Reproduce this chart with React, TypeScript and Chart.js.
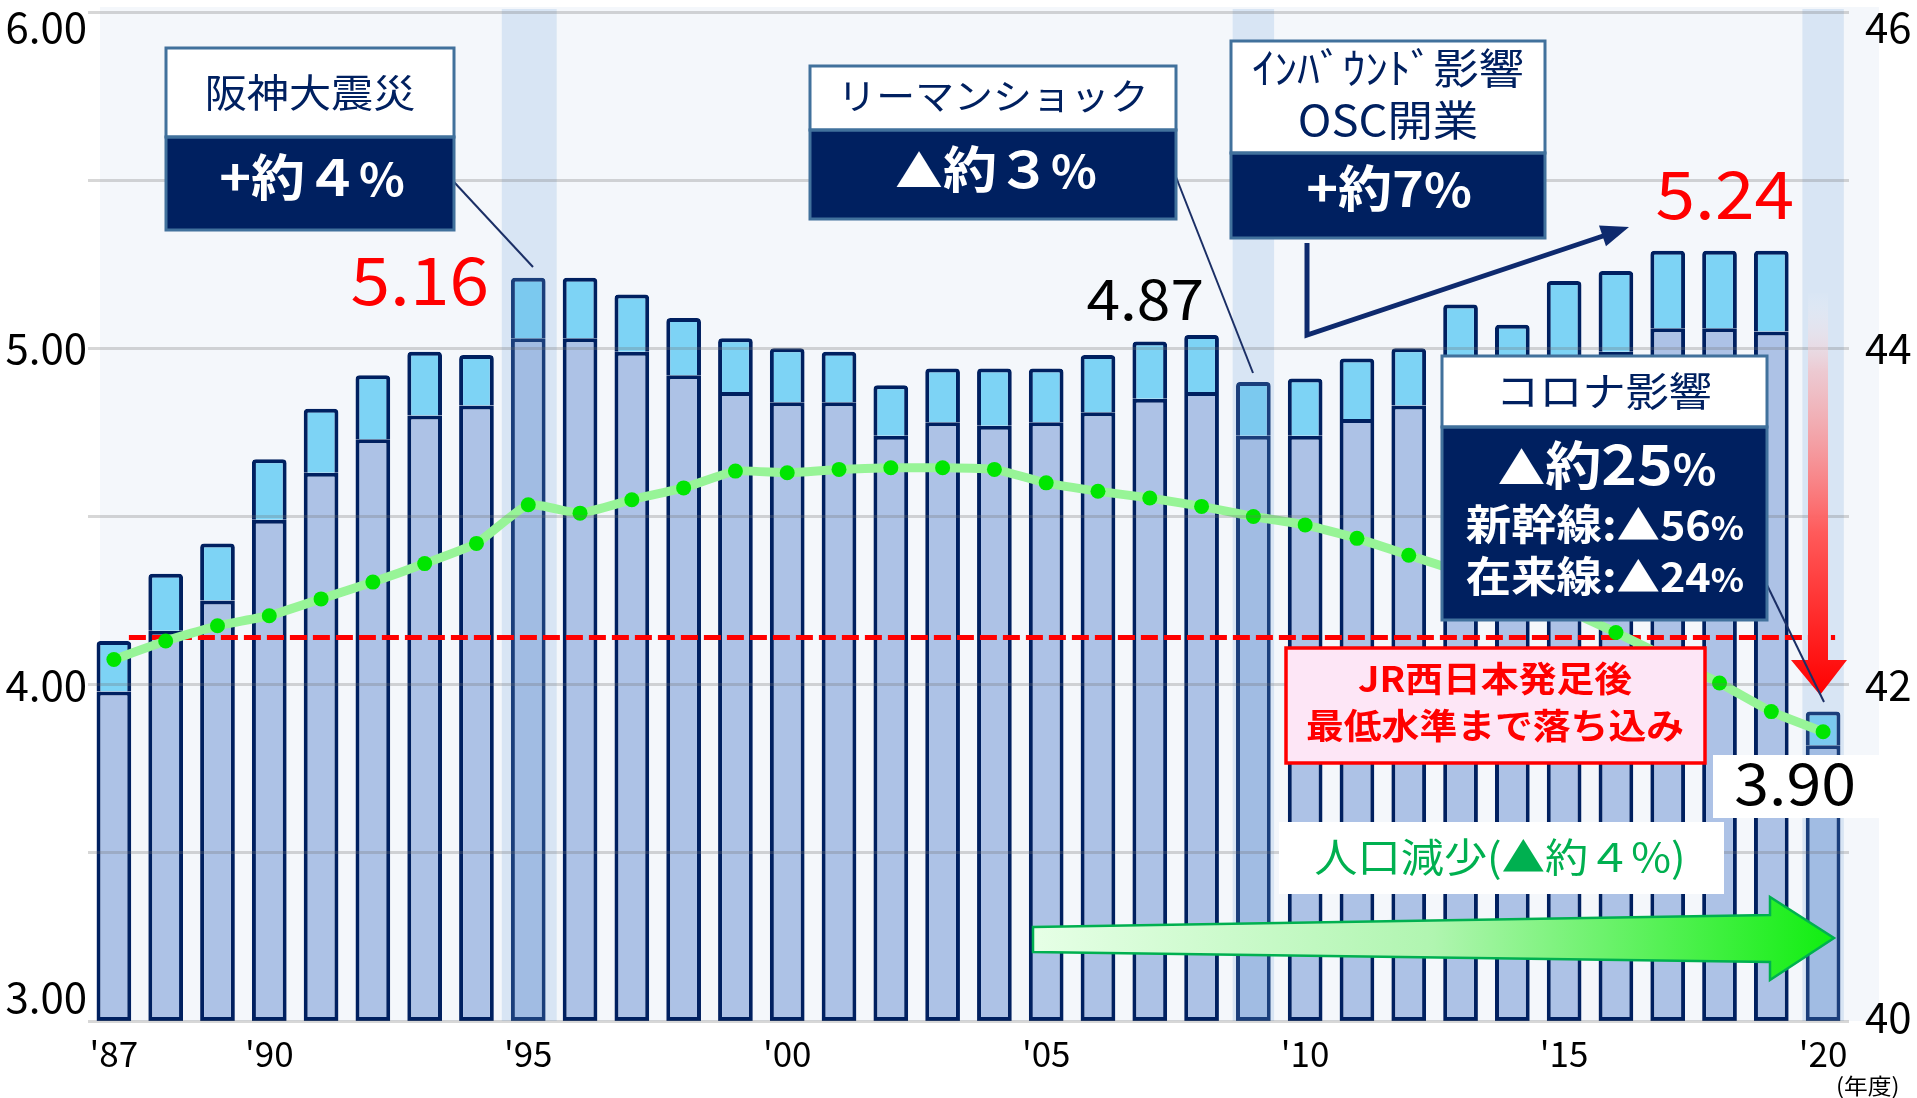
import React, { useEffect, useRef } from "react";
import { Chart, registerables } from "chart.js";

Chart.register(...registerables);

const FONT = '"Noto Sans CJK JP", "Noto Sans", sans-serif';

// ---- data ----
const fiscalYears = [
  "'87", "'88", "'89", "'90", "'91", "'92", "'93", "'94", "'95", "'96",
  "'97", "'98", "'99", "'00", "'01", "'02", "'03", "'04", "'05", "'06",
  "'07", "'08", "'09", "'10", "'11", "'12", "'13", "'14", "'15", "'16",
  "'17", "'18", "'19", "'20",
];
const shownYearLabels = ["'87", "'90", "'95", "'00", "'05", "'10", "'15", "'20"];

// top of the lower (darker) segment, left axis
const lowerSegmentValues = [
  3.98, 4.16, 4.25, 4.49, 4.63, 4.73, 4.80, 4.83, 5.03, 5.03,
  4.99, 4.92, 4.87, 4.84, 4.84, 4.74, 4.78, 4.77, 4.78, 4.81,
  4.85, 4.87, 4.74, 4.74, 4.79, 4.83, 4.89, 4.92, 4.96, 4.99,
  5.06, 5.06, 5.05, 3.82,
];
// total bar height, left axis
const totalValues = [
  4.13, 4.33, 4.42, 4.67, 4.82, 4.92, 4.99, 4.98, 5.21, 5.21,
  5.16, 5.09, 5.03, 5.00, 4.99, 4.89, 4.94, 4.94, 4.94, 4.98,
  5.02, 5.04, 4.90, 4.91, 4.97, 5.00, 5.13, 5.07, 5.20, 5.23,
  5.29, 5.29, 5.29, 3.92,
];
// population line, right axis
const populationValues = [
  42.15, 42.26, 42.35, 42.41, 42.51, 42.61, 42.72, 42.84, 43.07, 43.02,
  43.10, 43.17, 43.27, 43.26, 43.28, 43.29, 43.29, 43.28, 43.20, 43.15,
  43.11, 43.06, 43.00, 42.95, 42.87, 42.77, 42.67, 42.56, 42.45, 42.31,
  42.16, 42.01, 41.84, 41.72,
];
const leftAxisLabels = [3, 4, 5, 6];
const rightAxisLabels = [40, 42, 44, 46];
const lowestLevel = 4.14;
const highlightYears = ["'95", "'09", "'20"];

const SX = 1.08;

function drawText(ctx: CanvasRenderingContext2D, s: string, x: number, y: number, size: number, weight: string, color: string, align = "center", baseline: CanvasTextBaseline = "middle") {
  ctx.save();
  ctx.font = `${weight} ${size}px ${FONT}`;
  ctx.fillStyle = color;
  ctx.textBaseline = baseline;
  ctx.textAlign = "left";
  const w = ctx.measureText(s).width * SX;
  const left = align === "center" ? x - w / 2 : align === "right" ? x - w : x;
  ctx.translate(left, y);
  ctx.scale(SX, 1);
  ctx.fillText(s, 0, 0);
  ctx.restore();
}

function drawRich(ctx: CanvasRenderingContext2D, segs: [string, number][], cx: number, baseY: number, color: string) {
  ctx.save();
  ctx.fillStyle = color;
  ctx.textBaseline = "alphabetic";
  ctx.textAlign = "left";
  let total = 0;
  const ws = segs.map(([t, s]) => {
    ctx.font = `bold ${s}px ${FONT}`;
    const w = ctx.measureText(t).width * SX;
    total += w;
    return w;
  });
  let x = cx - total / 2;
  segs.forEach(([t, s], i) => {
    ctx.save();
    ctx.font = `bold ${s}px ${FONT}`;
    ctx.translate(x, baseY);
    ctx.scale(SX, 1);
    ctx.fillText(t, 0, 0);
    ctx.restore();
    x += ws[i];
  });
  ctx.restore();
}

function twoPartBox(ctx: CanvasRenderingContext2D, x1: number, y1: number, x2: number, ySplit: number, y2: number) {
  ctx.save();
  ctx.fillStyle = "#ffffff";
  ctx.fillRect(x1, y1, x2 - x1, ySplit - y1);
  ctx.fillStyle = "#002060";
  ctx.fillRect(x1, ySplit, x2 - x1, y2 - ySplit);
  ctx.strokeStyle = "#41719c";
  ctx.lineWidth = 3;
  ctx.strokeRect(x1, y1, x2 - x1, ySplit - y1);
  ctx.strokeRect(x1, ySplit, x2 - x1, y2 - ySplit);
  ctx.restore();
}

function line(ctx: CanvasRenderingContext2D, pts: number[][], color: string, w: number) {
  ctx.save();
  ctx.strokeStyle = color;
  ctx.lineWidth = w;
  ctx.lineJoin = "miter";
  ctx.beginPath();
  pts.forEach((p, i) => (i === 0 ? ctx.moveTo(p[0], p[1]) : ctx.lineTo(p[0], p[1])));
  ctx.stroke();
  ctx.restore();
}

const decorPlugin = {
  id: "decor",
  beforeDraw(chart: any) {
    const { ctx, chartArea: a } = chart;
    ctx.save();
    ctx.fillStyle = "#f4f7fb";
    ctx.fillRect(a.left + 12, a.top - 5, a.right - a.left + 18, a.bottom - a.top + 5);
    ctx.restore();
  },
  beforeDatasetDraw(chart: any, args: any) {
    if (args.index !== 0) return;
    const { ctx, chartArea: a } = chart;
    const xs = chart.scales.x;
    const ys = chart.scales.y;
    const step = xs.getPixelForValue(1) - xs.getPixelForValue(0);
    const widths = [1.06, 0.8, 0.8];
    ctx.save();
    ctx.fillStyle = "rgba(120,168,217,0.22)";
    highlightYears.forEach((yr, k) => {
      const cx = xs.getPixelForValue(fiscalYears.indexOf(yr)) + (k === 0 ? 1 : 0);
      const w = step * widths[k];
      ctx.fillRect(cx - w / 2, a.top - 3, w, a.bottom - a.top + 3);
    });
    ctx.restore();
    // lowest-level dashed line
    const yy = ys.getPixelForValue(lowestLevel);
    ctx.save();
    ctx.strokeStyle = "#ff0000";
    ctx.lineWidth = 5;
    ctx.setLineDash([17, 6]);
    ctx.beginPath();
    ctx.moveTo(xs.getPixelForValue(0) + 15, yy);
    ctx.lineTo(xs.getPixelForValue(fiscalYears.length - 1) + 12, yy);
    ctx.stroke();
    ctx.restore();
  },
  afterDraw(chart: any) {
    const ctx: CanvasRenderingContext2D = chart.ctx;
    const navy = "#002060";

    // leader lines
    line(ctx, [[454, 182], [533, 267]], "#1b2f66", 2);
    line(ctx, [[1176, 177], [1253, 373]], "#1b2f66", 2);

    // box 1: 阪神大震災
    twoPartBox(ctx, 166, 48, 454, 137, 230);
    drawText(ctx, "阪神大震災", 310, 92, 39, "normal", navy);
    drawRich(ctx, [["+約", 50], ["４", 50], ["%", 44]], 312, 196, "#ffffff");

    // box 2: リーマンショック
    twoPartBox(ctx, 810, 66, 1176, 130, 219);
    drawText(ctx, "リーマンショック", 993, 96, 36, "normal", navy);
    drawRich(ctx, [["▲", 44], ["約", 50], ["３", 50], ["%", 44]], 996, 188, "#ffffff");

    // box 3: インバウンド
    twoPartBox(ctx, 1231, 41, 1545, 153, 238);
    drawText(ctx, "ｲﾝﾊﾞｳﾝﾄﾞ影響", 1388, 68, 42, "normal", navy);
    drawText(ctx, "OSC開業", 1388, 120, 42, "normal", navy);
    drawRich(ctx, [["+約", 50], ["7", 50], ["%", 46]], 1389, 207, "#ffffff");

    // navy L-arrow
    line(ctx, [[1307, 243], [1307, 335], [1612, 233]], "#0e2a6e", 5);
    ctx.save();
    ctx.fillStyle = "#0e2a6e";
    {
      const tx = 1629, ty = 227;
      const ux = 0.947, uy = -0.318;
      const L = 28, H = 11;
      const bx = tx - ux * L, by = ty - uy * L;
      ctx.beginPath();
      ctx.moveTo(tx, ty);
      ctx.lineTo(bx - uy * H, by + ux * H);
      ctx.lineTo(bx + uy * H, by - ux * H);
      ctx.closePath();
      ctx.fill();
    }
    ctx.restore();

    // value labels
    drawText(ctx, "5.16", 489, 305, 66, "normal", "#ff0000", "right", "alphabetic");
    drawText(ctx, "4.87", 1204, 320, 56, "normal", "#000000", "right", "alphabetic");
    drawText(ctx, "5.24", 1794, 219, 66, "normal", "#ff0000", "right", "alphabetic");

    // red down arrow
    ctx.save();
    const g = ctx.createLinearGradient(0, 290, 0, 695);
    g.addColorStop(0, "rgba(255,255,255,0)");
    g.addColorStop(0.2, "rgba(245,190,195,0.7)");
    g.addColorStop(0.6, "rgba(255,90,90,1)");
    g.addColorStop(1, "#ff0000");
    ctx.fillStyle = g;
    ctx.beginPath();
    ctx.moveTo(1808, 293);
    ctx.lineTo(1828, 293);
    ctx.lineTo(1828, 660);
    ctx.lineTo(1847, 660);
    ctx.lineTo(1820, 695);
    ctx.lineTo(1791, 660);
    ctx.lineTo(1808, 660);
    ctx.closePath();
    ctx.fill();
    ctx.restore();

    // box 4: コロナ影響
    line(ctx, [[1767, 585], [1824, 702]], "#1b2f66", 2);
    twoPartBox(ctx, 1442, 356, 1767, 427, 620);
    drawText(ctx, "コロナ影響", 1604, 391, 40, "normal", navy);
    drawRich(ctx, [["▲", 44], ["約", 52], ["25", 56], ["%", 42]], 1607, 485, "#ffffff");
    drawRich(ctx, [["新幹線:", 42], ["▲", 40], ["56", 40], ["%", 32]], 1605, 540, "#ffffff");
    drawRich(ctx, [["在来線:", 42], ["▲", 40], ["24", 40], ["%", 32]], 1605, 592, "#ffffff");

    // JR box
    ctx.save();
    ctx.fillStyle = "#fde6f6";
    ctx.fillRect(1286, 648, 1705 - 1286, 763 - 648);
    ctx.strokeStyle = "#ff0000";
    ctx.lineWidth = 3.5;
    ctx.strokeRect(1286, 648, 1705 - 1286, 763 - 648);
    ctx.restore();
    drawText(ctx, "JR西日本発足後", 1495, 679, 35, "bold", "#ff0000");
    drawText(ctx, "最低水準まで落ち込み", 1495, 726, 35, "bold", "#ff0000");

    // 3.90 label
    ctx.save();
    ctx.fillStyle = "#ffffff";
    ctx.fillRect(1713, 755, 1879 - 1713, 818 - 755);
    ctx.restore();
    drawText(ctx, "3.90", 1856, 805, 58, "normal", "#000000", "right", "alphabetic");

    // population label
    ctx.save();
    ctx.fillStyle = "#ffffff";
    ctx.fillRect(1279, 822, 1724 - 1279, 894 - 822);
    ctx.restore();
    drawText(ctx, "人口減少(▲約４%)", 1500, 857, 40, "normal", "#00b050");

    // green arrow
    ctx.save();
    const gg = ctx.createLinearGradient(1033, 0, 1834, 0);
    gg.addColorStop(0, "#e6ffe6");
    gg.addColorStop(0.5, "#b0f5b0");
    gg.addColorStop(1, "#10ee10");
    ctx.fillStyle = gg;
    ctx.strokeStyle = "#00b050";
    ctx.lineWidth = 2.5;
    ctx.beginPath();
    ctx.moveTo(1033, 927);
    ctx.lineTo(1770, 915);
    ctx.lineTo(1770, 897);
    ctx.lineTo(1834, 938);
    ctx.lineTo(1770, 980);
    ctx.lineTo(1770, 962);
    ctx.lineTo(1033, 952);
    ctx.closePath();
    ctx.fill();
    ctx.stroke();
    ctx.restore();

    // unit
    drawText(ctx, "(年度)", 1836, 1075, 22, "normal", "#000000", "left", "top");
  },
};

export default function App() {
  const ref = useRef<HTMLCanvasElement | null>(null);

  useEffect(() => {
    if (!ref.current) return;
    const edgeFont = (c: any, top: number, bottom: number, bottomLH: number) => {
      const v = c.tick ? c.tick.value : null;
      return { family: FONT, size: 42, lineHeight: v === top ? 0.72 : v === bottom ? bottomLH : 1 };
    };
    const chart = new Chart(ref.current, {
      type: "bar",
      data: {
        labels: fiscalYears,
        datasets: [
          {
            type: "line",
            label: "人口",
            data: populationValues,
            yAxisID: "y1",
            order: 0,
            borderColor: "#97f497",
            borderWidth: 9,
            pointRadius: 7.5,
            pointBackgroundColor: "#00e600",
            pointBorderWidth: 0,
            tension: 0.15,
          } as any,
          {
            type: "bar",
            label: "上部",
            data: lowerSegmentValues.map((v, i) => [v, totalValues[i]]),
            yAxisID: "y",
            order: 1,
            grouped: false,
            backgroundColor: "#7dd3f5",
            borderColor: "#002060",
            borderWidth: 4,
            borderSkipped: "bottom",
            borderRadius: { topLeft: 4, topRight: 4, bottomLeft: 0, bottomRight: 0 },
            barPercentage: 0.67,
            categoryPercentage: 1,
          } as any,
          {
            type: "bar",
            label: "下部",
            data: lowerSegmentValues.map((v) => [leftAxisLabels[0], v]),
            yAxisID: "y",
            order: 2,
            grouped: false,
            backgroundColor: "#adc2e6",
            borderColor: "#002060",
            borderWidth: 4,
            borderSkipped: false,
            barPercentage: 0.67,
            categoryPercentage: 1,
          } as any,
        ],
      },
      options: {
        responsive: false,
        animation: false,
        layout: { padding: { top: 12, left: 0, right: 0, bottom: 0 } },
        plugins: { legend: { display: false }, tooltip: { enabled: false } },
        scales: {
          x: {
            grid: { display: false, drawTicks: false },
            border: { display: false },
            ticks: {
              autoSkip: false,
              maxRotation: 0,
              minRotation: 0,
              padding: 12,
              color: "#000000",
              font: { family: FONT, size: 35 },
              callback: (_v: any, i: number) => (shownYearLabels.includes(fiscalYears[i]) ? fiscalYears[i] : ""),
            },
            afterFit: (s: any) => {
              s.height = 77;
              s.paddingLeft = 0;
              s.paddingRight = 0;
            },
          },
          y: {
            position: "left",
            min: 3,
            max: 6,
            grid: { color: "rgba(110,110,110,0.28)", lineWidth: 3, drawTicks: false, z: 1 },
            border: { display: false },
            ticks: {
              stepSize: 0.5,
              padding: 1,
              color: "#000000",
              font: (c: any) => edgeFont(c, 6, 3, 1.15),
              callback: (v: any) => {
                if (!leftAxisLabels.includes(v)) return "";
                const s = Number(v).toFixed(2);
                if (v === 6) return ["", s];
                if (v === 3) return [s, ""];
                return s;
              },
            },
            afterFit: (s: any) => {
              s.width = 88;
              s.paddingTop = 0;
              s.paddingBottom = 0;
            },
          },
          y1: {
            position: "right",
            min: 40,
            max: 46,
            grid: { display: false, drawTicks: false },
            border: { display: false },
            ticks: {
              stepSize: 1,
              padding: 16,
              color: "#000000",
              font: (c: any) => edgeFont(c, 46, 40, 0.2),
              callback: (v: any) => {
                if (!rightAxisLabels.includes(v)) return "";
                const s = String(v);
                if (v === 46) return ["", s];
                if (v === 40) return [s, ""];
                return s;
              },
            },
            afterFit: (s: any) => {
              s.width = 68;
              s.paddingTop = 0;
              s.paddingBottom = 0;
            },
          },
        },
      } as any,
      plugins: [decorPlugin as any],
    });
    return () => chart.destroy();
  }, []);

  return (
    <div style={{ position: "fixed", left: 0, top: 0, width: "1917px", height: "1098px", background: "#ffffff" }}>
      <canvas ref={ref} width={1917} height={1098} style={{ width: "1917px", height: "1098px", display: "block" }} />
    </div>
  );
}
